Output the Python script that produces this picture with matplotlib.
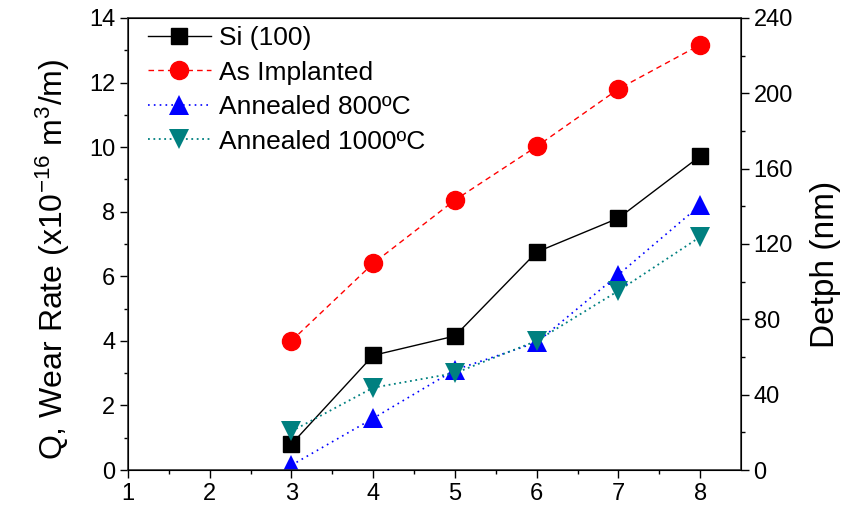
import numpy as np
import matplotlib
matplotlib.use("Agg")
import matplotlib.pyplot as plt

plt.rcParams['font.family'] = ['Liberation Sans', 'DejaVu Sans']
plt.rcParams['mathtext.default'] = 'regular'

# Data
x_vals = [3, 4, 5, 6, 7, 8]
si_100 = [0.8, 3.55, 4.15, 6.75, 7.8, 9.72]
as_implanted = [4.0, 6.4, 8.36, 10.02, 11.8, 13.17]
annealed_800 = [0.15, 1.6, 3.1, 3.95, 6.05, 8.2]
annealed_1000 = [1.2, 2.55, 3.0, 4.0, 5.55, 7.22]

labels = ['Si (100)', 'As Implanted', 'Annealed 800ºC', 'Annealed 1000ºC']
x_ticks = [1, 2, 3, 4, 5, 6, 7, 8]
y_ticks = [0, 2, 4, 6, 8, 10, 12, 14]
depth_ticks = [0, 40, 80, 120, 160, 200, 240]

fig = plt.figure(figsize=(8.56, 5.13), dpi=100)
ax = fig.add_axes([0.1495, 0.0838, 0.7162, 0.8812])

ax.plot(x_vals, si_100, color='black', linestyle='-', linewidth=1,
        marker='s', markersize=12, label=labels[0])
ax.plot(x_vals, as_implanted, color='red', linestyle=(0, (4, 3)), linewidth=1,
        marker='o', markersize=13, label=labels[1])
ax.plot(x_vals, annealed_800, color='blue', linestyle=(0, (1, 2.5)), linewidth=1.2,
        marker='^', markersize=14, markeredgewidth=0, label=labels[2])
ax.plot(x_vals, annealed_1000, color='#008080', linestyle=(0, (1, 2)), linewidth=1.3,
        marker='v', markersize=14, markeredgewidth=0, label=labels[3])

ax.set_xlim(1, 8.5)
ax.set_ylim(0, 14)
ax.set_xticks(x_ticks)
ax.set_yticks(y_ticks)
ax.set_xticks(np.arange(1.5, 8.5, 1), minor=True)
ax.set_yticks(np.arange(1, 14, 2), minor=True)
ax.tick_params(axis='both', which='major', direction='out', length=6,
               width=1, labelsize=17, pad=3)
ax.tick_params(axis='both', which='minor', direction='out', length=3, width=1)
ax.set_ylabel(r'Q, Wear Rate (x10$^{-16}$ m$^3$/m)', fontsize=23)
ax.yaxis.set_label_coords(-0.092, 0.465)
for s in ax.spines.values():
    s.set_linewidth(1.2)
    s.set_color('#333333')

ax2 = ax.twinx()
ax2.set_ylim(0, 240)
ax2.set_yticks(depth_ticks)
ax2.set_yticks(np.arange(20, 240, 40), minor=True)
ax2.tick_params(axis='y', which='major', direction='out', length=6,
                width=1, labelsize=17, pad=3)
ax2.tick_params(axis='y', which='minor', direction='out', length=3, width=1)
ax2.set_ylabel('Detph (nm)', fontsize=24)
ax2.yaxis.set_label_coords(1.113, 0.455)

ax.legend(loc='upper left', bbox_to_anchor=(0.028, 0.988), frameon=False,
          fontsize=19, handlelength=2.4, borderaxespad=0, borderpad=0.1,
          labelspacing=0.4, handletextpad=0.3)

fig.savefig('out.png', dpi=100)
